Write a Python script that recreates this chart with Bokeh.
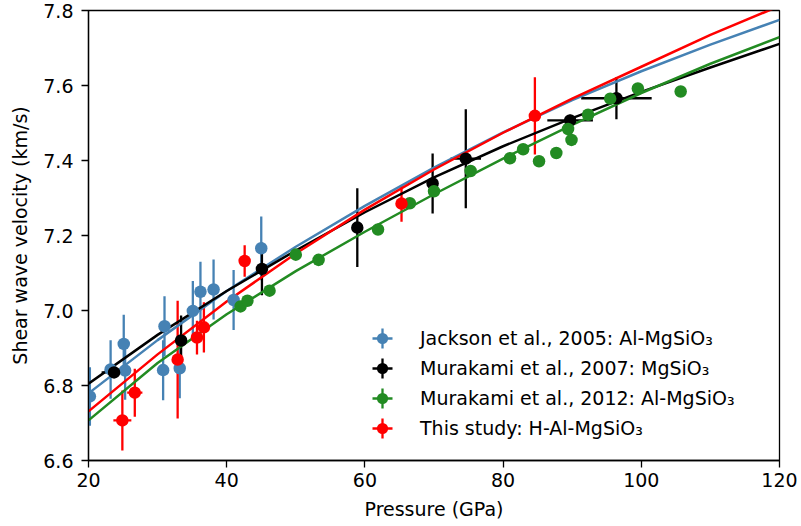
from bokeh.plotting import figure
from bokeh.models import Legend, LegendItem, FixedTicker, PrintfTickFormatter, Range1d
from bokeh.embed import file_html
from bokeh.resources import INLINE

# ---------------- data ----------------
# Jackson et al., 2005 (Al-MgSiO3)
jackson_p = [20.2, 23.2, 25.1, 25.3, 30.8, 31.0, 33.2, 35.1, 36.2, 38.1, 41.0, 45.0]
jackson_v = [6.771, 6.843, 6.911, 6.840, 6.841, 6.958, 6.846, 6.999, 7.050, 7.056, 7.028, 7.166]
jackson_verr = [0.078, 0.078, 0.078, 0.078, 0.08, 0.08, 0.08, 0.08, 0.08, 0.08, 0.08, 0.085]

# Murakami et al., 2007 (MgSiO3)
mur07_p = [23.7, 33.4, 45.1, 58.9, 69.8, 74.6, 89.7, 96.4]
mur07_v = [6.835, 6.920, 7.111, 7.221, 7.339, 7.405, 7.507, 7.566]
mur07_verr = [0.015, 0.067, 0.07, 0.105, 0.08, 0.132, 0.015, 0.056]
mur07_perr = [1.8, 0.0, 0.0, 0.0, 0.0, 2.2, 3.3, 5.1]

# Murakami et al., 2012 (Al-MgSiO3)
mur12_p = [42.0, 43.0, 46.2, 50.0, 53.3, 61.9, 66.5, 70.0, 75.3, 81.0, 82.9,
           85.2, 87.7, 89.4, 89.9, 92.3, 95.5, 99.5, 105.7]
mur12_v = [7.011, 7.026, 7.053, 7.149, 7.135, 7.216, 7.286, 7.318, 7.372, 7.406, 7.430,
           7.398, 7.420, 7.484, 7.455, 7.522, 7.565, 7.592, 7.584]

# This study (H-Al-MgSiO3)
this_p = [24.9, 26.7, 32.9, 35.7, 36.7, 42.6, 65.3, 84.6]
this_v = [6.707, 6.781, 6.869, 6.928, 6.955, 7.132, 7.285, 7.519]
this_verr = [0.08, 0.064, 0.157, 0.045, 0.067, 0.042, 0.048, 0.103]
this_perr = [1.3, 1.1, 0.0, 0.0, 0.0, 0.0, 0.0, 0.0]

# fitted velocity curves (read at 10 GPa steps)
fit_p = [20, 30, 40, 50, 60, 70, 80, 90, 100, 110, 120]
fit_jackson = [6.779, 6.921, 7.052, 7.170, 7.279, 7.381, 7.475, 7.561, 7.638, 7.709, 7.775]
fit_mur07 = [6.805, 6.935, 7.052, 7.160, 7.262, 7.355, 7.438, 7.513, 7.583, 7.648, 7.711]
fit_mur12 = [6.707, 6.860, 6.990, 7.105, 7.210, 7.310, 7.405, 7.495, 7.580, 7.658, 7.729]
fit_this = [6.731, 6.883, 7.024, 7.152, 7.269, 7.376, 7.474, 7.565, 7.650, 7.735, 7.812]

labels = ["Jackson et al., 2005: Al-MgSiO\u2083",
          "Murakami et al., 2007: MgSiO\u2083",
          "Murakami et al., 2012: Al-MgSiO\u2083",
          "This study: H-Al-MgSiO\u2083"]
x_ticks = [20, 40, 60, 80, 100, 120]
y_ticks = [6.6, 6.8, 7.0, 7.2, 7.4, 7.6, 7.8]

BLUE = "#4682b4"
BLACK = "#000000"
GREEN = "#228b22"
RED = "#ff0000"
FONT = "DejaVu Sans"
FS = "19px"

p = figure(width=801, height=526, output_backend="svg", toolbar_location=None,
           x_range=Range1d(20, 120), y_range=Range1d(6.6, 7.8),
           min_border_left=88, min_border_right=22, min_border_top=10, min_border_bottom=66)
p.background_fill_color = "white"
p.border_fill_color = "white"
p.grid.visible = False
p.outline_line_color = "black"
p.outline_line_width = 1.3

for ax in (p.xaxis[0], p.yaxis[0]):
    ax.axis_line_color = "black"
    ax.axis_line_width = 1.3
    ax.major_tick_line_color = "black"
    ax.major_tick_line_width = 1.3
    ax.major_tick_out = 7
    ax.major_tick_in = 0
    ax.minor_tick_line_color = None
    ax.major_label_text_font = FONT
    ax.major_label_text_font_size = FS
    ax.major_label_text_color = "black"
    ax.axis_label_text_font = FONT
    ax.axis_label_text_font_size = FS
    ax.axis_label_text_font_style = "normal"
    ax.axis_label_text_color = "black"

p.xaxis[0].ticker = FixedTicker(ticks=x_ticks)
p.yaxis[0].ticker = FixedTicker(ticks=y_ticks)
p.yaxis[0].formatter = PrintfTickFormatter(format="%.1f")
p.xaxis[0].axis_label = "Pressure (GPa)"
p.yaxis[0].axis_label = "Shear wave velocity (km/s)"
p.xaxis[0].major_label_standoff = 5
p.xaxis[0].axis_label_standoff = 8
p.yaxis[0].major_label_standoff = 8
p.yaxis[0].axis_label_standoff = 9

EW = 2.3

def errorbars(px, vy, verr, perr, color):
    if verr is not None:
        p.segment(x0=px, y0=[v - e for v, e in zip(vy, verr)],
                  x1=px, y1=[v + e for v, e in zip(vy, verr)],
                  line_color=color, line_width=EW)
    if perr is not None:
        idx = [i for i, e in enumerate(perr) if e > 0]
        p.segment(x0=[px[i] - perr[i] for i in idx], y0=[vy[i] for i in idx],
                  x1=[px[i] + perr[i] for i in idx], y1=[vy[i] for i in idx],
                  line_color=color, line_width=EW)

# error bars below everything
errorbars(jackson_p, jackson_v, jackson_verr, None, BLUE)
errorbars(mur07_p, mur07_v, mur07_verr, mur07_perr, BLACK)
errorbars(this_p, this_v, this_verr, this_perr, RED)

# fitted curves
p.line(fit_p, fit_jackson, line_color=BLUE, line_width=2.5)
p.line(fit_p, fit_mur07, line_color=BLACK, line_width=2.5)
p.line(fit_p, fit_mur12, line_color=GREEN, line_width=2.5)
p.line(fit_p, fit_this, line_color=RED, line_width=2.5)

MS = 12.5
series = [(jackson_p, jackson_v, BLUE), (mur07_p, mur07_v, BLACK),
          (mur12_p, mur12_v, GREEN), (this_p, this_v, RED)]
dots = [p.scatter(px, vy, marker="circle", size=MS, fill_color=c, line_color=c, line_width=0)
        for px, vy, c in series]

# zero-size crosses on the same data: invisible in the plot, drawn as the
# error-bar cross in the legend (legend marker size comes from the legend box)
crosses = [p.scatter(px, vy, marker="cross", size=0, line_color=c, line_width=EW, line_cap="butt")
           for px, vy, c in series]

# one small legend per row for the crosses (rows 30 px apart)
row_offsets = [97, 67, 37, 7]
for r, off in zip(crosses, row_offsets):
    lg = Legend(items=[LegendItem(label="", renderers=[r])],
                location=(269, off), glyph_width=50, glyph_height=50, spacing=0,
                padding=0, margin=0, border_line_alpha=0, background_fill_alpha=0,
                label_standoff=0, label_width=0, label_height=0,
                label_text_font_size="1px")
    p.add_layout(lg, "center")

leg_main = Legend(items=[LegendItem(label=l, renderers=[r]) for l, r in zip(labels, dots)],
                  location=(280, 18), glyph_width=28, glyph_height=28, spacing=2,
                  padding=0, margin=0, border_line_alpha=0, background_fill_alpha=0,
                  label_standoff=24, label_text_font=FONT, label_text_font_size=FS,
                  label_text_color="black")
p.add_layout(leg_main, "center")

open("out.html", "w").write(file_html(p, INLINE))
